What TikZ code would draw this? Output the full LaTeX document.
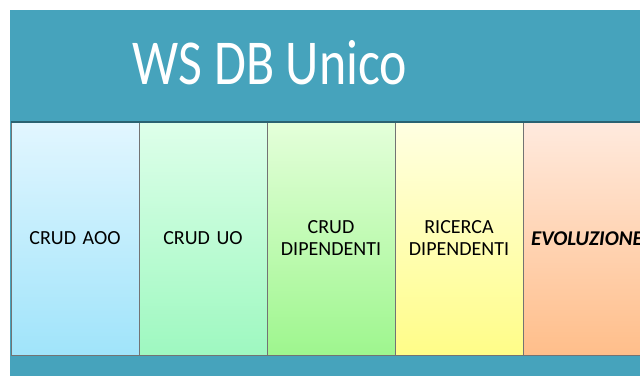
\documentclass[tikz,border=0pt]{standalone}
\usepackage{fontspec}
\setmainfont{Carlito}
\usetikzlibrary{positioning}
\definecolor{wsteal}{RGB}{70,163,188}
\definecolor{aooTop}{RGB}{226,246,255}
\definecolor{aooBot}{RGB}{160,228,250}
\definecolor{uoTop}{RGB}{222,255,234}
\definecolor{uoBot}{RGB}{158,248,192}
\definecolor{dipTop}{RGB}{228,255,218}
\definecolor{dipBot}{RGB}{158,246,142}
\definecolor{ricTop}{RGB}{255,255,226}
\definecolor{ricBot}{RGB}{255,253,136}
\definecolor{evoTop}{RGB}{255,234,222}
\definecolor{evoBot}{RGB}{255,190,138}

\begin{document}
\begin{tikzpicture}[x=1pt, y=-1pt,
    colbox/.style={draw=black!55, line width=0.6pt, minimum width=128pt,
        minimum height=233pt, inner sep=0pt, outer sep=0pt, anchor=north west,
        align=center, text width=118pt,
        font=\fontsize{20}{22}\selectfont}]
    \useasboundingbox (0,0) rectangle (640,376);
    \clip (0,0) rectangle (640,376);
    \fill[wsteal] (10,10) rectangle (640,376);
    \node[text=white, font=\fontsize{64}{70}\selectfont] (title) at (270,63) {\scalebox{0.81}[1]{WS DB Unico}};
    % columns
    \node[colbox, top color=aooTop, bottom color=aooBot] (aoo) at (11,122) {CRUD AOO};
    \node[colbox, top color=uoTop, bottom color=uoBot, right=0pt of aoo] (uo) {CRUD UO};
    \node[colbox, top color=dipTop, bottom color=dipBot, right=0pt of uo] (crud) {CRUD\\DIPENDENTI};
    \node[colbox, top color=ricTop, bottom color=ricBot, right=0pt of crud] (ricerca) {RICERCA\\DIPENDENTI};
    \node[colbox, top color=evoTop, bottom color=evoBot, right=0pt of ricerca,
        font=\fontsize{21}{22}\selectfont\bfseries\itshape] (evo) {EVOLUZIONE};
    \draw[wsteal!60!black, line width=1.2pt] (aoo.north west) -- (evo.north east);
\end{tikzpicture}
\end{document}
